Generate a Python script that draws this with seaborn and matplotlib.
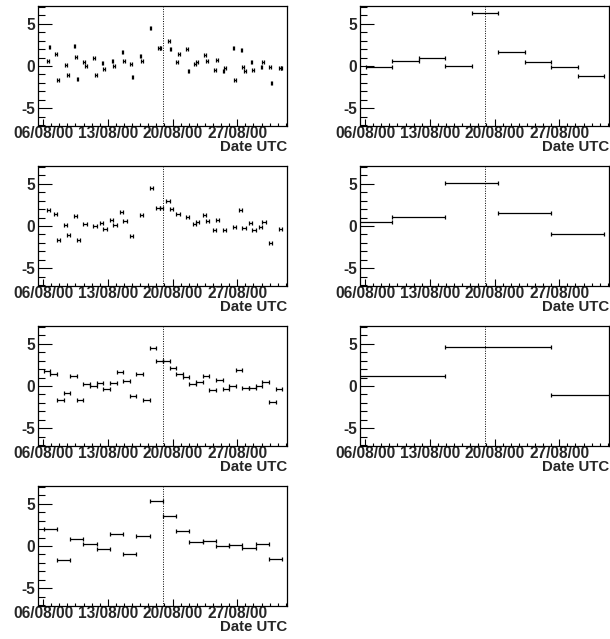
import numpy as np
import pandas as pd
import matplotlib
matplotlib.use("Agg")
import matplotlib.pyplot as plt
import matplotlib.dates as mdates
import matplotlib.ticker as mticker
import seaborn as sns

# time binning: every bin index is counted from T0, in units of factor * W0
T0 = np.datetime64("2000-08-03T04:48")
W0_HOURS = 4.3
MARK_TIME = np.datetime64("2000-08-18T23:12")
X_START = np.datetime64("2000-08-05T10:48")
X_END = np.datetime64("2000-09-01T09:07")
MAJOR_DATES = ["2000-08-06", "2000-08-13", "2000-08-20", "2000-08-27"]
MINOR_STEP_HOURS = 21

# factor 1
p1_bins = [18, 19, 23, 24, 29, 30, 34, 35, 36, 40, 41, 46, 47, 51, 52, 57, 58, 63,
           64, 68, 69, 74, 75, 80, 85, 86, 91, 92, 96, 97, 102, 103, 107, 108, 113,
           114, 119, 120, 124, 125, 130, 131, 135, 136, 137, 141, 142, 147, 148, 152,
           153, 158, 159]
p1_vals = [0.59, 2.29, 1.38, -1.66, 0.12, -1.03, 2.37, 1.03, -1.58, 0.51, 0.04, 0.91,
           -1.03, 0.36, -0.36, 0.63, 0.04, 1.66, 0.59, 0.24, -1.34, 1.19, 0.63, 4.5,
           2.09, 2.17, 2.92, 2.06, 0.51, 1.38, 2.02, -0.59, 0.28, 0.47, 1.34, 0.59,
           -0.43, 0.75, -0.55, -0.28, 2.17, -1.66, 1.94, -0.08, -0.55, 0.47, -0.43,
           -0.08, 0.43, -0.12, -1.98, -0.2, -0.24]

# factor 2
p2_bins = [9, 11, 12, 14, 15, 17, 18, 20, 23, 25, 26, 28, 29, 31, 32, 34, 37, 40, 42,
           43, 45, 46, 48, 51, 53, 54, 56, 57, 59, 60, 62, 65, 67, 68, 70, 71, 73, 74,
           76, 79]
p2_vals = [1.85, 1.42, -1.65, 0.12, -1.02, 1.22, -1.61, 0.2, 0.04, 0.35, -0.39, 0.67,
           0.08, 1.69, 0.59, -1.14, 1.34, 4.49, 2.09, 2.17, 2.91, 2.05, 1.46, 1.06,
           0.28, 0.47, 1.34, 0.59, -0.47, 0.75, -0.43, -0.08, 1.89, -0.2, 0.39, -0.47,
           -0.08, 0.43, -1.97, -0.35]

# factor 4
p3_bins = list(range(4, 40))
p3_vals = [1.8, 1.4, -1.65, -0.8, 1.2, -1.65, 0.25, 0.05, 0.35, -0.4, 0.35, 1.7, 0.6,
           -1.2, 1.4, -1.6, 4.5, 3.0, 2.9, 2.1, 1.45, 1.05, 0.25, 0.45, 1.2, -0.45,
           0.75, -0.4, -0.05, 1.9, -0.2, -0.2, -0.05, 0.45, -1.95, -0.35]

# factor 8
p4_bins = list(range(2, 20))
p4_vals = [2.04, -1.6, 0.82, 0.2, -0.31, 1.45, -0.9, 1.18, 5.3, 3.5, 1.76, 0.47, 0.63,
           0.04, 0.12, -0.27, 0.24, -1.57]

# factor 16
p5_bins = list(range(1, 10))
p5_vals = [-0.08, 0.63, 0.99, 0.04, 6.32, 1.7, 0.47, -0.16, -1.19]

# factor 32
p6_bins = list(range(0, 5))
p6_vals = [0.47, 1.06, 5.06, 1.53, -0.98]

# factor 64
p7_bins = list(range(0, 3))
p7_vals = [1.15, 4.62, -1.1]

panels = [
    (1, p1_bins, p1_vals), (16, p5_bins, p5_vals),
    (2, p2_bins, p2_vals), (32, p6_bins, p6_vals),
    (4, p3_bins, p3_vals), (64, p7_bins, p7_vals),
    (8, p4_bins, p4_vals),
]

sns.set_theme(style="ticks")
plt.rcParams["font.family"] = ["Liberation Sans", "DejaVu Sans"]
plt.rcParams["font.weight"] = "bold"
plt.rcParams["axes.labelweight"] = "bold"
plt.rcParams["axes.unicode_minus"] = False


def to_num(t):
    return mdates.date2num(t.astype("datetime64[s]").astype(object))


t0 = to_num(T0)
w0 = W0_HOURS / 24.0
mark = to_num(MARK_TIME)
x_lo, x_hi = to_num(X_START), to_num(X_END)
majors = [to_num(np.datetime64(d)) for d in MAJOR_DATES]
step = MINOR_STEP_HOURS / 24.0
minors = np.concatenate([np.arange(majors[0], x_lo, -step), np.arange(majors[0], x_hi, step)])

fig = plt.figure(figsize=(6.1, 6.39), dpi=100)
W, H = 610, 639
for i, (fac, bins, vals) in enumerate(panels):
    row, col = divmod(i, 2)
    left = 38 if col == 0 else 360
    top = 6 + 160 * row
    ax = fig.add_axes([left / W, 1 - (top + 120) / H, 249 / W, 120 / H])

    df = pd.DataFrame({"bin": bins, "value": vals})
    width = fac * w0
    df["center"] = t0 + (df["bin"] + 0.5) * width
    ax.errorbar(df["center"], df["value"], xerr=width / 2, fmt="none",
                ecolor="black", elinewidth=0.9, capsize=1.6, capthick=0.9)
    ax.axvline(mark, color="black", ls=(0, (1, 1.5)), lw=0.7)

    ax.set_xlim(x_lo, x_hi)
    ax.set_ylim(-7.1, 7.1)
    ax.xaxis.set_major_locator(mticker.FixedLocator(majors))
    ax.xaxis.set_minor_locator(mticker.FixedLocator(minors))
    ax.xaxis.set_major_formatter(mdates.DateFormatter("%d/%m/%y"))
    ax.yaxis.set_major_locator(mticker.FixedLocator([-5, 0, 5]))
    ax.yaxis.set_minor_locator(mticker.MultipleLocator(1))
    ax.tick_params(axis="x", which="major", direction="in", length=5, width=0.8,
                   pad=0, labelsize=11.2, color="black")
    ax.tick_params(axis="x", which="minor", direction="in", length=2.5, width=0.8, color="black")
    ax.tick_params(axis="y", which="major", direction="in", length=10, width=0.8,
                   pad=2, labelsize=11.2, color="black")
    ax.tick_params(axis="y", which="minor", direction="in", length=5, width=0.8, color="black")
    for lab in ax.get_xticklabels() + ax.get_yticklabels():
        lab.set_fontweight("bold")
    for sp in ax.spines.values():
        sp.set_color("black")
        sp.set_linewidth(0.9)
    ax.set_xlabel("Date UTC", loc="right", labelpad=-1, fontsize=10.8, fontweight="bold")
    ax.set_ylabel("")

plt.savefig("out.png", dpi=100)
